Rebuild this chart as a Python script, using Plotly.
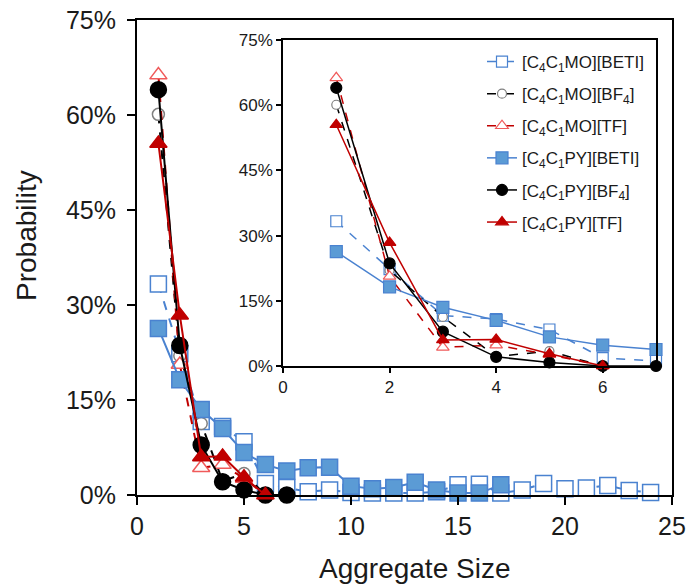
import plotly.graph_objects as go

# Aggregate sizes
size_mo_beti = list(range(1, 25))
size_mo_bf4 = [1, 2, 3, 4, 5, 6]
size_mo_tf = [1, 2, 3, 4, 5, 6]
size_py_beti = list(range(1, 18))
size_py_bf4 = [1, 2, 3, 4, 5, 6, 7]
size_py_tf = [1, 2, 3, 4, 5, 6]

# Probabilities (%)
p_mo_beti = [33.3, 22.3, 11.6, 10.8, 8.4, 1.8, 1.2, 0.5, 0.8, 0.4, 0.3, 0.3,
             0.3, 0.5, 1.6, 1.7, 0.3, 0.8, 1.8, 1.0, 1.1, 1.5, 0.7, 0.4]
p_mo_bf4 = [60.1, 22.0, 11.3, 2.2, 3.4, 0.0]
p_mo_tf = [66.3, 20.6, 4.3, 4.8, 2.6, 0.0]
p_py_beti = [26.3, 18.2, 13.5, 10.5, 6.7, 4.8, 3.8, 4.3, 4.4, 1.4, 1.0, 1.2,
             2.0, 0.8, 0.3, 0.3, 1.6]
p_py_bf4 = [64.0, 23.6, 7.9, 2.1, 0.8, 0.0, 0.0]
p_py_tf = [55.5, 28.4, 6.0, 6.1, 2.8, 0.0]

names = ["[C<sub>4</sub>C<sub>1</sub>MO][BETI]",
         "[C<sub>4</sub>C<sub>1</sub>MO][BF<sub>4</sub>]",
         "[C<sub>4</sub>C<sub>1</sub>MO][TF]",
         "[C<sub>4</sub>C<sub>1</sub>PY][BETI]",
         "[C<sub>4</sub>C<sub>1</sub>PY][BF<sub>4</sub>]",
         "[C<sub>4</sub>C<sub>1</sub>PY][TF]"]

BLUE_L = "#4A82D0"
BLUE_F = "#5B9BD5"
RED = "#C00000"
RED_L = "#F05A5A"
GRAY = "#808080"

series = [
    dict(x=size_mo_beti, y=p_mo_beti, dash="dash", lc=BLUE_L, sym="square",
         fill="white", mlc=BLUE_L, ms=(16, 11)),
    dict(x=size_mo_bf4, y=p_mo_bf4, dash="dash", lc="black", sym="circle",
         fill="white", mlc=GRAY, ms=(12, 9)),
    dict(x=size_mo_tf, y=p_mo_tf, dash="dash", lc=RED, sym="triangle-up",
         fill="white", mlc=RED_L, ms=(15, 11)),
    dict(x=size_py_beti, y=p_py_beti, dash="solid", lc=BLUE_L, sym="square",
         fill=BLUE_F, mlc=BLUE_L, ms=(16, 12)),
    dict(x=size_py_bf4, y=p_py_bf4, dash="solid", lc="black", sym="circle",
         fill="black", mlc="black", ms=(16, 11)),
    dict(x=size_py_tf, y=p_py_tf, dash="solid", lc=RED, sym="triangle-up",
         fill=RED, mlc=RED, ms=(15, 11)),
]

fig = go.Figure()

# Main plot
for i, s in enumerate(series):
    fig.add_trace(go.Scatter(
        x=s["x"], y=s["y"], mode="lines+markers", name=names[i],
        line=dict(color=s["lc"], width=2, dash=s["dash"]),
        marker=dict(symbol=s["sym"], size=s["ms"][0], color=s["fill"],
                    line=dict(color=s["mlc"], width=1.5)),
        showlegend=False, cliponaxis=False, xaxis="x", yaxis="y"))

# Inset (sizes up to 7)
for i, s in enumerate(series):
    xs = [a for a in s["x"] if a <= 7]
    ys = s["y"][:len(xs)]
    fig.add_trace(go.Scatter(
        x=xs, y=ys, mode="lines+markers", name=names[i],
        line=dict(color=s["lc"], width=1.5, dash=s["dash"]),
        marker=dict(symbol=s["sym"], size=s["ms"][1], color=s["fill"],
                    line=dict(color=s["mlc"], width=1.2)),
        showlegend=True, legendgroup="g%d" % i, cliponaxis=False,
        xaxis="x2", yaxis="y2"))

FONT = "Liberation Sans, Arial, sans-serif"
L, R, T, B = 137, 14, 20, 91
W, H = 686, 586
pw = W - L - R
ph = H - T - B

def px_x(p):
    return (p - L) / pw

def px_y(p):
    return (H - B - p) / ph

axis_common = dict(showline=True, linecolor="black", mirror=True,
                   ticks="outside", tickcolor="black", showgrid=False,
                   zeroline=False, automargin=False)

fig.update_layout(
    width=W, height=H,
    margin=dict(l=L, r=R, t=T, b=B, autoexpand=False),
    paper_bgcolor="white", plot_bgcolor="white",
    font=dict(family=FONT, color="#1a1a1a"),
    xaxis=dict(range=[0, 25], dtick=5, tick0=0, linewidth=2, ticklen=8,
               tickwidth=2, tickfont=dict(size=25), **axis_common),
    yaxis=dict(range=[0, 75], dtick=15, tick0=0, ticksuffix="%", linewidth=2,
               ticklen=8, tickwidth=2, tickfont=dict(size=25),
               ticklabelstandoff=6, **axis_common),
    xaxis2=dict(domain=[px_x(283), px_x(656)], anchor="y2", range=[0, 7],
                dtick=2, tick0=0, linewidth=1.5, ticklen=5, tickwidth=1.5,
                tickfont=dict(size=17), **axis_common),
    yaxis2=dict(domain=[px_y(366), px_y(40)], anchor="x2", range=[0, 75],
                dtick=15, tick0=0, ticksuffix="%", linewidth=1.5, ticklen=5,
                tickwidth=1.5, tickfont=dict(size=17), **axis_common),
    legend=dict(x=px_x(482), y=px_y(44), xanchor="left", yanchor="top",
                bgcolor="rgba(0,0,0,0)", font=dict(size=17, family=FONT),
                itemwidth=30, tracegroupgap=7, traceorder="grouped"),
    annotations=[
        dict(text="Aggregate Size", xref="paper", yref="paper",
             x=px_x(414), y=px_y(568), showarrow=False,
             font=dict(size=28, family=FONT, color="#1a1a1a"),
             xanchor="center", yanchor="middle"),
        dict(text="Probability", xref="paper", yref="paper",
             x=px_x(27), y=px_y(236), showarrow=False, textangle=-90,
             font=dict(size=28, family=FONT, color="#1a1a1a"),
             xanchor="center", yanchor="middle"),
    ],
)

fig.write_html("out.html")
